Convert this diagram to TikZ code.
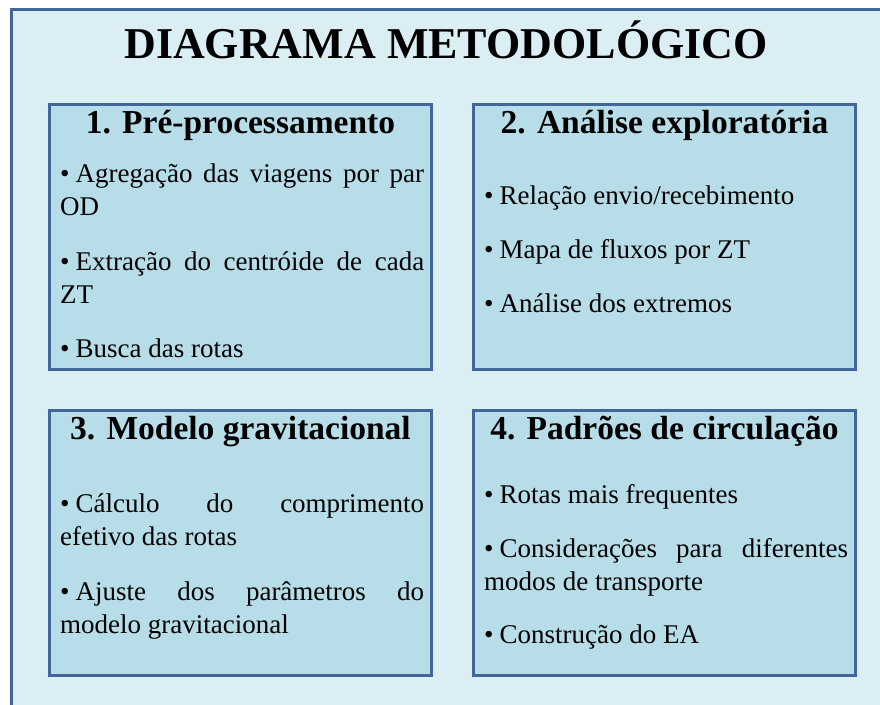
\documentclass[tikz,border=0pt]{standalone}
\usepackage{fontspec}
\setmainfont{Liberation Serif}
\definecolor{fundo}{HTML}{DBEEF4}
\definecolor{caixa}{HTML}{B7DDE8}
\definecolor{borda}{HTML}{41669A}
\hyphenpenalty=10000
\exhyphenpenalty=10000
\newcommand{\marca}{•\kern0.22em}

\begin{document}
\begin{tikzpicture}[x = 1pt, y = -1pt,
	quadro/.style = {draw = borda, line width = 3pt, fill = caixa, inner sep = 0pt,
		minimum width = 382pt, minimum height = 265pt},
	cabeca/.style = {anchor = base, inner sep = 0pt, font = \fontsize{33.5}{38}\selectfont\bfseries},
	topico/.style = {anchor = base west, inner sep = 0pt, text width = 364pt, align = justify,
		font = \fontsize{27}{33}\selectfont}]
	\useasboundingbox (0,0) rectangle (880,704);
	\fill[white] (0,0) rectangle (880,704);
	\draw[draw = borda, line width = 3pt, fill = fundo] (11.5,9.5) rectangle (900,720);

	\node[anchor = base, inner sep = 0pt, font = \fontsize{44}{50}\selectfont\bfseries]
		(titulo) at (446,58) {DIAGRAMA METODOLÓGICO};

	\node[quadro] (q1) at (240.5,236.5) {};
	\node[quadro] (q2) at (664.5,236.5) {};
	\node[quadro] (q3) at (240.5,543) {};
	\node[quadro] (q4) at (664.5,543) {};

	\node[cabeca] (c1) at (240.5,133) {1. Pré-processamento};
	\node[topico] (t11) at (60,182) {\marca Agregação das viagens por par\linebreak OD};
	\node[topico] (t12) at (60,270) {\marca Extração do centróide de cada\linebreak ZT};
	\node[topico] (t13) at (60,357) {\marca Busca das rotas};

	\node[cabeca] (c2) at (664.5,133) {2. Análise exploratória};
	\node[topico] (t21) at (484,204) {\marca Relação envio/recebimento};
	\node[topico] (t22) at (484,258) {\marca Mapa de fluxos por ZT};
	\node[topico] (t23) at (484,312) {\marca Análise dos extremos};

	\node[cabeca] (c3) at (240.5,439) {3. Modelo gravitacional};
	\node[topico] (t31) at (60,512) {\marca Cálculo do comprimento\linebreak efetivo das rotas};
	\node[topico] (t32) at (60,600) {\marca Ajuste dos parâmetros do\linebreak modelo gravitacional};

	\node[cabeca] (c4) at (664.5,439) {4. Padrões de circulação};
	\node[topico] (t41) at (484,503) {\marca Rotas mais frequentes};
	\node[topico] (t42) at (484,557) {\marca Considerações para diferentes\linebreak modos de transporte};
	\node[topico] (t43) at (484,643) {\marca Construção do EA};
\end{tikzpicture}
\end{document}
